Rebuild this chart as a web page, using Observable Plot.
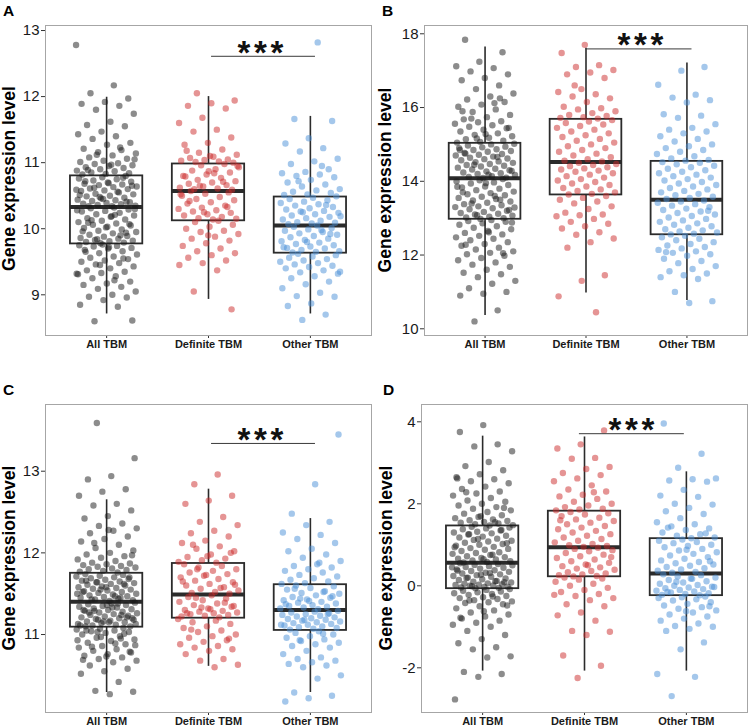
<!DOCTYPE html>
<html><head><meta charset="utf-8">
<script src="https://cdn.jsdelivr.net/npm/d3@7"></script>
<script src="https://cdn.jsdelivr.net/npm/@observablehq/plot@0.6"></script>
<style>
body{margin:0;background:#fff;font-family:"Liberation Sans",Arial,sans-serif;}
#wrap{position:relative;width:752px;height:728px;overflow:hidden;}
.panel{position:absolute;}
#overlay{position:absolute;left:0;top:0;pointer-events:none;}
</style></head><body><div id="wrap"></div>
<script>
const groups = ["All TBM","Definite TBM","Other TBM"];
const colors = ["#1a1a1a","#cc2a2a","#4a8fd8"];
const panelLetters = ["A","B","C","D"];
const yTitle = "Gene expression level";

// Panel A values
const A_all = [12.78,12.17,12.05,11.97,11.92,11.89,11.86,11.8,11.74,11.62,11.57,11.55,11.47,11.43,11.4,11.36,11.3,11.27,11.21,11.19,11.16,11.14,11.11,11.08,11.06,11.03,11.01,10.99,10.98,10.96,10.95,10.93,10.92,10.9,10.88,10.87,10.85,10.84,10.83,10.82,11.23,11.12,11.05,10.97,10.89,
10.8,10.78,10.76,10.75,10.73,10.71,10.7,10.68,10.67,10.66,10.64,10.63,10.61,10.6,10.58,10.57,10.55,10.53,10.52,10.5,10.49,10.47,10.46,10.44,10.43,10.42,10.4,10.39,10.38,10.37,10.36,10.35,10.34,10.34,10.41,10.45,10.51,10.56,10.62,10.65,10.69,10.72,10.77,10.48,10.59,
10.32,10.31,10.29,10.27,10.26,10.24,10.22,10.2,10.18,10.16,10.14,10.12,10.1,10.08,10.06,10.05,10.03,10.01,9.99,9.97,9.95,9.93,9.91,9.89,9.88,9.86,9.85,9.83,9.82,9.81,9.8,9.79,9.78,10.28,10.21,10.13,10.07,10.02,9.96,9.9,9.84,10.3,10.19,10.09,9.94,
9.76,9.75,9.74,9.73,9.71,9.7,9.68,9.66,9.63,9.61,9.58,9.56,9.54,9.52,9.5,9.48,9.46,9.43,9.4,9.37,9.35,9.33,9.31,9.28,9.25,9.2,9.17,9.15,9.12,9.09,9.05,9.0,8.97,8.96,8.92,8.85,8.82,8.6,8.61,9.72,9.65,9.55,9.45,9.32,9.22];
const A_def = [12.05,11.94,11.9,11.86,11.82,11.68,11.6,11.5,11.47,11.38,11.3,11.27,11.2,11.15,11.12,11.09,11.07,11.05,11.04,11.03,11.02,11.01,11.0,11.1,11.18,
10.98,10.96,10.93,10.9,10.88,10.85,10.82,10.8,10.77,10.74,10.72,10.7,10.68,10.66,10.64,10.62,10.61,10.6,10.59,10.87,10.79,10.71,10.65,10.95,10.84,
10.57,10.55,10.53,10.5,10.48,10.45,10.43,10.4,10.38,10.35,10.32,10.3,10.28,10.26,10.24,10.22,10.2,10.18,10.16,10.15,10.14,10.42,10.33,10.25,10.52,
10.12,10.1,10.06,10.03,10.0,9.97,9.95,9.92,9.88,9.85,9.82,9.78,9.74,9.7,9.66,9.63,9.6,9.56,9.52,9.48,9.45,9.37,9.05,8.78,9.9];
const A_oth = [12.82,11.66,11.63,11.37,11.29,11.22,11.17,11.06,11.02,10.98,10.9,10.86,10.84,10.82,10.8,10.78,10.74,10.7,10.67,10.64,10.6,10.58,10.56,10.54,10.52,10.51,10.95,10.72,
10.49,10.47,10.45,10.43,10.41,10.39,10.37,10.35,10.33,10.31,10.29,10.27,10.26,10.24,10.22,10.2,10.18,10.16,10.14,10.12,10.1,10.09,10.08,10.07,10.36,10.25,10.19,
10.05,10.03,10.01,9.99,9.97,9.95,9.93,9.91,9.89,9.87,9.85,9.83,9.81,9.79,9.77,9.75,9.73,9.71,9.7,9.68,9.66,9.65,9.64,9.92,9.8,9.72,9.98,
9.62,9.6,9.58,9.56,9.54,9.52,9.5,9.48,9.46,9.44,9.42,9.4,9.37,9.34,9.32,9.28,9.25,9.2,9.16,9.1,9.03,8.98,8.97,8.87,8.83,8.7,8.62,9.35];

// Panel B values
const B_all = [17.84,17.5,17.24,17.12,17.07,16.98,16.9,16.8,16.74,16.6,16.5,16.38,16.3,16.22,16.15,16.08,16.02,15.95,15.88,15.8,15.74,15.68,15.63,15.6,15.56,15.52,15.48,15.44,15.4,15.35,15.3,15.26,15.22,15.18,15.14,15.1,15.07,15.05,16.12,15.7,15.45,15.28,15.9,16.25,15.16,
15.02,15.0,14.97,14.94,14.92,14.9,14.87,14.85,14.82,14.8,14.77,14.74,14.72,14.7,14.67,14.64,14.62,14.6,14.57,14.54,14.52,14.5,14.47,14.44,14.42,14.4,14.37,14.34,14.32,14.3,14.27,14.24,14.22,14.2,14.17,14.14,14.12,14.1,14.09,14.85,14.66,14.45,14.28,14.18,14.75,
14.06,14.03,14.0,13.97,13.94,13.9,13.86,13.83,13.8,13.76,13.72,13.68,13.65,13.62,13.58,13.55,13.52,13.48,13.45,13.42,13.38,13.35,13.32,13.3,13.27,13.24,13.2,13.17,13.14,13.12,13.1,13.07,13.04,13.02,13.0,12.98,13.85,13.6,13.4,13.22,13.95,13.7,13.5,13.08,13.29,
12.95,12.92,12.9,12.86,12.82,12.78,12.74,12.7,12.65,12.6,12.56,12.52,12.48,12.44,12.4,12.35,12.3,12.25,12.2,12.15,12.1,12.06,12.02,11.98,11.92,11.86,11.8,11.74,11.68,11.6,11.52,11.48,11.4,11.3,11.22,11.1,11.0,10.95,10.9,10.5,10.2,12.88,12.62,12.28,12.05];
const B_def = [17.7,17.48,17.15,17.1,17.02,16.95,16.9,16.8,16.5,16.42,16.36,16.3,16.25,16.15,16.02,15.98,15.95,15.9,15.85,15.8,15.77,15.74,15.72,15.7,16.6,
15.66,15.62,15.58,15.54,15.5,15.45,15.4,15.35,15.3,15.25,15.2,15.15,15.1,15.05,15.0,14.95,14.9,14.85,14.8,14.75,14.7,14.65,14.6,14.56,14.54,
14.5,14.47,14.44,14.41,14.38,14.35,14.32,14.29,14.26,14.22,14.18,14.14,14.1,14.06,14.02,13.98,13.94,13.9,13.86,13.82,13.78,13.74,13.7,13.66,13.64,
13.6,13.55,13.5,13.45,13.4,13.32,13.25,13.15,13.1,13.08,13.05,12.98,12.9,12.85,12.78,12.72,12.62,12.55,12.45,12.35,12.2,11.45,11.3,10.88,10.45];
const B_oth = [17.1,17.0,16.62,16.35,16.27,16.2,16.14,15.82,15.78,15.72,15.55,15.45,15.4,15.35,15.3,15.22,15.15,15.08,15.0,14.95,14.9,14.85,14.8,14.74,14.68,14.62,14.58,14.56,
14.52,14.5,14.46,14.42,14.38,14.34,14.3,14.26,14.22,14.18,14.14,14.1,14.06,14.02,13.98,13.94,13.9,13.86,13.82,13.78,13.74,13.7,13.66,13.62,13.58,13.55,13.52,
13.48,13.45,13.42,13.38,13.34,13.3,13.26,13.22,13.18,13.14,13.1,13.06,13.02,12.98,12.94,12.9,12.86,12.82,12.78,12.74,12.7,12.67,12.64,12.61,12.58,12.56,13.2,
12.52,12.48,12.44,12.4,12.35,12.3,12.26,12.22,12.18,12.14,12.1,12.06,12.02,11.98,11.9,11.84,11.78,11.7,11.62,11.56,11.5,11.45,11.4,11.35,11.0,10.75,10.7,12.08];

// Panel C values
const C_all = [13.59,13.16,12.94,12.9,12.78,12.75,12.7,12.6,12.58,12.52,12.45,12.42,12.36,12.33,12.3,12.27,12.24,12.2,12.17,12.14,12.1,12.06,12.03,12.0,11.98,11.96,11.94,11.92,11.9,11.88,11.87,11.86,11.85,11.84,11.83,11.82,11.81,11.8,11.79,11.78,11.77,11.76,12.12,11.97,12.28,
11.74,11.73,11.72,11.71,11.7,11.69,11.68,11.67,11.66,11.65,11.64,11.63,11.62,11.61,11.6,11.59,11.58,11.57,11.56,11.55,11.54,11.53,11.52,11.51,11.5,11.49,11.48,11.47,11.46,11.45,11.44,11.43,11.42,11.41,11.66,11.62,11.55,11.5,11.47,11.43,11.7,11.58,11.52,11.45,11.64,
11.39,11.38,11.37,11.36,11.35,11.34,11.33,11.32,11.31,11.3,11.29,11.28,11.27,11.26,11.25,11.24,11.23,11.22,11.21,11.2,11.19,11.18,11.17,11.16,11.15,11.14,11.13,11.12,11.11,11.1,11.36,11.3,11.24,11.18,11.13,11.33,11.27,11.21,11.16,11.11,11.38,11.29,11.2,11.15,11.1,
11.08,11.07,11.06,11.05,11.04,11.03,11.02,11.0,10.98,10.96,10.94,10.92,10.9,10.88,10.86,10.84,10.82,10.8,10.78,10.76,10.74,10.72,10.7,10.68,10.66,10.62,10.58,10.55,10.52,10.42,10.31,10.3,10.27,11.05,11.01,10.97,10.93,10.89,10.85,10.79,10.73,10.69,10.95,11.03,10.87];
const C_def = [12.96,12.84,12.7,12.64,12.6,12.44,12.38,12.34,12.27,12.24,12.2,12.15,12.12,12.08,12.05,12.02,11.98,11.95,11.93,11.91,11.89,11.88,12.1,12.0,11.96,
11.86,11.84,11.82,11.8,11.78,11.76,11.74,11.72,11.7,11.68,11.66,11.64,11.62,11.6,11.58,11.56,11.54,11.52,11.51,11.5,11.73,11.65,11.57,11.8,11.61,
11.48,11.46,11.44,11.42,11.4,11.38,11.36,11.34,11.32,11.3,11.29,11.28,11.27,11.26,11.25,11.24,11.23,11.22,11.21,11.45,11.35,11.31,11.26,11.39,11.33,
11.19,11.17,11.15,11.13,11.1,11.08,11.05,11.03,11.0,10.98,10.96,10.93,10.91,10.88,10.86,10.84,10.82,10.8,10.76,10.7,10.68,10.63,10.6,11.06,10.95];
const C_oth = [13.45,12.84,12.48,12.38,12.34,12.25,12.22,12.17,12.12,12.05,12.02,11.98,11.94,11.9,11.86,11.84,11.82,11.8,11.78,11.76,11.73,11.71,11.69,11.67,11.65,11.63,11.62,11.88,
11.6,11.59,11.57,11.55,11.53,11.51,11.5,11.48,11.46,11.45,11.43,11.42,11.4,11.39,11.38,11.36,11.35,11.34,11.33,11.32,11.31,11.56,11.47,11.41,11.37,11.52,11.44,
11.29,11.28,11.27,11.26,11.25,11.24,11.23,11.22,11.21,11.2,11.19,11.18,11.17,11.16,11.15,11.14,11.13,11.12,11.11,11.1,11.09,11.08,11.07,11.06,11.25,11.18,11.12,
11.04,11.02,11.0,10.98,10.96,10.94,10.92,10.9,10.88,10.86,10.84,10.8,10.76,10.72,10.7,10.68,10.66,10.64,10.62,10.6,10.5,10.46,10.29,10.25,10.22,10.18,11.01,10.93];

// Panel D values
const D_all = [3.92,3.75,3.45,3.4,3.28,3.02,2.92,2.82,2.72,2.65,2.6,2.55,2.5,2.42,2.36,2.3,2.25,2.2,2.14,2.08,2.05,2.0,1.96,1.92,1.88,1.84,1.8,1.76,1.72,1.68,1.65,1.62,1.6,1.58,1.56,1.54,1.52,1.5,1.48,1.47,2.28,1.9,1.7,2.62,1.55,
1.44,1.42,1.4,1.38,1.35,1.32,1.3,1.28,1.25,1.22,1.2,1.18,1.15,1.12,1.1,1.08,1.05,1.02,1.0,0.98,0.95,0.92,0.9,0.88,0.85,0.82,0.8,0.78,0.75,0.72,0.7,0.68,0.66,0.64,0.62,0.6,0.58,0.57,1.36,1.14,0.94,0.76,1.26,1.04,0.65,
0.55,0.53,0.51,0.5,0.48,0.46,0.44,0.42,0.4,0.38,0.36,0.34,0.32,0.3,0.28,0.26,0.24,0.22,0.2,0.18,0.16,0.14,0.12,0.1,0.08,0.06,0.05,0.04,0.03,0.02,0.01,0.0,-0.02,-0.03,-0.04,-0.05,-0.06,0.45,0.31,0.19,0.09,0.27,0.37,0.11,-0.01,
-0.08,-0.1,-0.12,-0.14,-0.16,-0.18,-0.2,-0.22,-0.25,-0.28,-0.3,-0.32,-0.35,-0.38,-0.4,-0.42,-0.45,-0.5,-0.55,-0.6,-0.65,-0.7,-0.75,-0.8,-0.85,-0.9,-0.95,-1.0,-1.1,-1.2,-1.3,-1.4,-1.5,-1.55,-1.72,-1.75,-2.1,-2.15,-2.22,-2.77,-0.26,-0.36,-0.48,-0.62,-0.78];
const D_def = [3.79,3.45,3.35,3.12,3.1,2.9,2.85,2.75,2.7,2.62,2.55,2.45,2.35,2.3,2.22,2.18,2.12,2.05,2.0,1.96,1.92,1.88,1.86,1.84,2.28,
1.8,1.77,1.74,1.7,1.66,1.62,1.58,1.54,1.5,1.46,1.42,1.38,1.34,1.3,1.26,1.22,1.18,1.14,1.1,1.06,1.02,0.99,0.97,0.95,1.6,
0.93,0.9,0.87,0.84,0.8,0.76,0.72,0.68,0.64,0.6,0.56,0.52,0.48,0.45,0.42,0.39,0.36,0.33,0.3,0.28,0.26,0.24,0.23,0.7,0.5,
0.2,0.18,0.15,0.1,0.05,0.0,-0.05,-0.1,-0.15,-0.2,-0.25,-0.3,-0.35,-0.45,-0.5,-0.65,-0.72,-0.85,-1.1,-1.12,-1.2,-1.7,-1.95,-2.25,-0.22];
const D_oth = [3.96,3.22,2.88,2.62,2.6,2.57,2.54,2.34,2.2,2.17,2.0,1.98,1.9,1.82,1.75,1.65,1.55,1.5,1.45,1.4,1.36,1.3,1.26,1.22,1.18,1.16,1.42,1.28,
1.13,1.1,1.07,1.04,1.0,0.97,0.94,0.9,0.86,0.82,0.78,0.74,0.7,0.66,0.62,0.58,0.55,0.52,0.49,0.46,0.43,0.4,0.37,0.34,0.32,0.6,0.88,
0.28,0.26,0.23,0.2,0.17,0.14,0.11,0.08,0.05,0.02,0.0,-0.02,-0.04,-0.06,-0.08,-0.1,-0.12,-0.14,-0.16,-0.18,-0.2,-0.22,-0.23,0.1,-0.03,0.18,-0.15,
-0.26,-0.28,-0.3,-0.33,-0.36,-0.4,-0.44,-0.48,-0.52,-0.56,-0.6,-0.65,-0.7,-0.75,-0.8,-0.85,-0.92,-0.98,-1.0,-1.05,-1.1,-1.38,-1.55,-2.15,-2.22,-2.69,-0.5,-0.62];

// Box statistics per group (lower whisker, Q1, median, Q3, upper whisker)
const A_lo = [8.71, 8.93, 8.71], A_q1 = [9.77, 10.12, 9.63], A_med = [10.33, 10.57, 10.05], A_q3 = [10.8, 10.98, 10.48], A_hi = [11.99, 12.0, 11.7];
const B_lo = [10.36, 10.97, 10.77], B_q1 = [12.97, 13.63, 12.55], B_med = [14.08, 14.52, 13.5], B_q3 = [15.03, 15.68, 14.54], B_hi = [17.64, 17.61, 17.21];
const C_lo = [10.29, 10.61, 10.29], C_q1 = [11.09, 11.2, 11.05], C_med = [11.4, 11.49, 11.3], C_q3 = [11.75, 11.87, 11.61], C_hi = [12.65, 12.78, 12.42];
const D_lo = [-2.08, -2.08, -2.08], D_q1 = [-0.07, 0.22, -0.24], D_med = [0.56, 0.94, 0.3], D_q3 = [1.46, 1.82, 1.15], D_hi = [3.65, 3.63, 2.78];

// Y ticks per panel
const A_ticks = [9, 10, 11, 12, 13];
const B_ticks = [10, 12, 14, 16, 18];
const C_ticks = [11, 12, 13];
const D_ticks = [-2, 0, 2, 4];

// Significance bar (Definite vs Other): y level, "***"
const sigLevel = [12.61, 17.59, 13.34, 3.71];
const sigLabel = "*";

const specs = [
  {left: 0, top: 0, h: 360, mt: 25, mb: 25, ml: 45, dom: [8.384, 13.076], ticks: A_ticks, data: [A_all, A_def, A_oth], lo: A_lo, q1: A_q1, med: A_med, q3: A_q3, hi: A_hi, sx: [2.03, 3.05], st: 2.51},
  {left: 376, top: 0, h: 360, mt: 25, mb: 25, ml: 48, dom: [9.818, 18.225], ticks: B_ticks, data: [B_all, B_def, B_oth], lo: B_lo, q1: B_q1, med: B_med, q3: B_q3, hi: B_hi, sx: [2.0, 3.05], st: 2.54},
  {left: 0, top: 364, h: 364, mt: 40, mb: 16, ml: 45, dom: [10.045, 13.817], ticks: C_ticks, data: [C_all, C_def, C_oth], lo: C_lo, q1: C_q1, med: C_med, q3: C_q3, hi: C_hi, sx: [2.03, 3.05], st: 2.51},
  {left: 376, top: 364, h: 364, mt: 40, mb: 16, ml: 45, dom: [-3.09, 4.422], ticks: D_ticks, data: [D_all, D_def, D_oth], lo: D_lo, q1: D_q1, med: D_med, q3: D_q3, hi: D_hi, sx: [1.95, 2.98], st: 2.46}
];

const wrap = document.getElementById("wrap");
const font = '"Liberation Sans", Arial, sans-serif';
const BW = 0.355;

specs.forEach((p, k) => {
  const pts = [];
  p.data.forEach((arr, g) => arr.forEach((v, i) => {
    const j = ((i * 0.6180339887 + g * 0.31 + k * 0.17) % 1) - 0.5;
    pts.push({g, x: g + 1 + j * 0.6, y: v, c: colors[g]});
  }));
  const boxes = groups.map((name, g) => ({g, x: g + 1, lo: p.lo[g], q1: p.q1[g], med: p.med[g], q3: p.q3[g], hi: p.hi[g]}));
  const sig = [{y: sigLevel[k], x1: p.sx[0], x2: p.sx[1], xt: p.st}];
  const svg = Plot.plot({
    width: 376, height: p.h,
    marginTop: p.mt, marginBottom: p.mb, marginLeft: p.ml, marginRight: 5,
    style: {fontFamily: font, background: "transparent", overflow: "visible", color: "#1a1a1a"},
    x: {type: "linear", domain: [0.4, 3.6]},
    y: {domain: p.dom},
    color: {type: "identity"},
    marks: [
      Plot.axisY({ticks: p.ticks, tickFormat: d => String(d), tickSize: 4, tickPadding: 2, fontSize: 15, label: null, stroke: "#333"}),
      Plot.axisX({ticks: [1, 2, 3], tickFormat: d => groups[d - 1], tickSize: 3, tickPadding: 2, fontSize: 11, fontWeight: "bold", label: null, stroke: "#333"}),
      Plot.ruleX(boxes, {x: "x", y1: "lo", y2: "hi", stroke: "#2b2b2b", strokeWidth: 1.6}),
      Plot.rect(boxes, {x1: d => d.x - BW, x2: d => d.x + BW, y1: "q1", y2: "q3", fill: "white", stroke: "#2b2b2b", strokeWidth: 1.8}),
      Plot.ruleY(boxes, {y: "med", x1: d => d.x - BW, x2: d => d.x + BW, stroke: "#2b2b2b", strokeWidth: 4}),
      Plot.dot(pts, {x: "x", y: "y", r: 3.2, fill: "c", fillOpacity: 0.5, stroke: null}),
      Plot.ruleY(sig, {y: "y", x1: "x1", x2: "x2", stroke: "#3a3a3a", strokeWidth: 1}),
      Plot.text(sig, {x: "xt", y: "y", text: () => sigLabel, dx: -16.5, dy: -3, fontSize: 33, fontWeight: "bold", fill: "#111"}),
      Plot.text(sig, {x: "xt", y: "y", text: () => sigLabel, dx: 0, dy: -3, fontSize: 33, fontWeight: "bold", fill: "#111"}),
      Plot.text(sig, {x: "xt", y: "y", text: () => sigLabel, dx: 16.5, dy: -3, fontSize: 33, fontWeight: "bold", fill: "#111"}),
      Plot.frame({stroke: "#a6a6a6", strokeWidth: 1})
    ]
  });
  svg.classList.add("panel");
  svg.style.left = p.left + "px";
  svg.style.top = p.top + "px";
  wrap.appendChild(svg);
});

// Overlay annotations: panel letters and y-axis titles
const ns = "http://www.w3.org/2000/svg";
const ov = document.createElementNS(ns, "svg");
ov.setAttribute("id", "overlay");
ov.setAttribute("width", 752);
ov.setAttribute("height", 728);
const letterPos = [[3, 16], [382, 16], [3, 395], [383, 395]];
const titlePos = [[15, 178.5], [391, 180], [15, 558], [392, 558]];
panelLetters.forEach((L, i) => {
  const t = document.createElementNS(ns, "text");
  t.setAttribute("x", letterPos[i][0]);
  t.setAttribute("y", letterPos[i][1]);
  t.setAttribute("font-family", font);
  t.setAttribute("font-weight", "bold");
  t.setAttribute("font-size", 15.5);
  t.setAttribute("fill", "#000");
  t.textContent = L;
  ov.appendChild(t);
  const y = document.createElementNS(ns, "text");
  y.setAttribute("transform", `translate(${titlePos[i][0]},${titlePos[i][1]}) rotate(-90)`);
  y.setAttribute("text-anchor", "middle");
  y.setAttribute("font-family", font);
  y.setAttribute("font-weight", "bold");
  y.setAttribute("font-size", 17.5);
  y.setAttribute("fill", "#000");
  y.textContent = yTitle;
  ov.appendChild(y);
});
wrap.appendChild(ov);
</script></body></html>
